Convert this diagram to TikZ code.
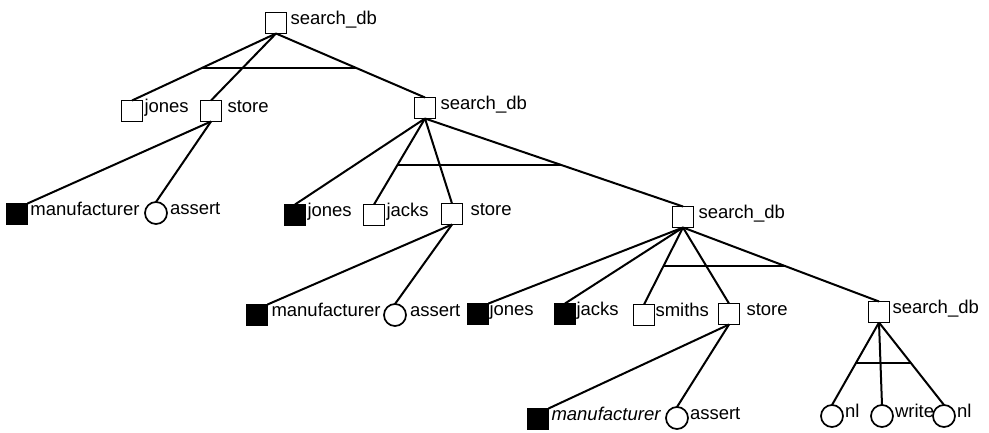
\documentclass[tikz,border=0pt]{standalone}
\usepackage{fontspec}
\setmainfont{Liberation Sans}
\begin{document}
\begin{tikzpicture}[x=1pt,y=-1pt,
  every node/.style={inner sep=0pt, outer sep=0pt},
  goalbox/.style={draw, rectangle, minimum size=21pt, line width=1.7pt, fill=white},
  donebox/.style={draw, rectangle, minimum size=21pt, line width=1.7pt, fill=black},
  builtin/.style={draw, circle, minimum size=22pt, line width=1.7pt, fill=white},
  lab/.style={anchor=base west, font=\fontsize{18.5}{20}\selectfont},
  edge/.style={line width=2pt},
  bar/.style={line width=1.6pt}]
\useasboundingbox (0,0) rectangle (989,432);

% ---- node shapes
\node[goalbox] (S1) at (276,23) {};
\node[goalbox] (J1) at (132,111) {};
\node[goalbox] (St1) at (211,111) {};
\node[goalbox] (S2) at (425,108) {};
\node[donebox] (M1) at (17,214) {};
\node[builtin] (A1) at (156,213) {};
\node[donebox] (J2) at (295,215) {};
\node[goalbox] (Jk2) at (374,215) {};
\node[goalbox] (St2) at (452,214) {};
\node[goalbox] (S3) at (683,217) {};
\node[donebox] (M2) at (257,315) {};
\node[builtin] (A2) at (395,315) {};
\node[donebox] (J3) at (478,314) {};
\node[donebox] (Jk3) at (565,314) {};
\node[goalbox] (Sm3) at (644,315) {};
\node[goalbox] (St3) at (729,314) {};
\node[goalbox] (S4) at (879,312) {};
\node[donebox] (M3) at (538,419) {};
\node[builtin] (A3) at (677,418) {};
\node[builtin] (N1) at (832,416) {};
\node[builtin] (W) at (882,416) {};
\node[builtin] (N2) at (944,416) {};

% ---- labels
\tikzset{lift/.style={yshift=-1.5pt}}
\node[lab] (S1l) at ([xshift=4pt,yshift=-1pt]S1.east) {search\_db};
\node[lab] (J1l) at ([xshift=2pt,lift]J1.east) {jones};
\node[lab] (St1l) at ([xshift=6pt,lift]St1.east) {store};
\node[lab] (S2l) at ([xshift=5pt,lift]S2.east) {search\_db};
\node[lab] (M1l) at ([xshift=3pt,lift]M1.east) {manufacturer};
\node[lab] (A1l) at ([xshift=3pt,lift]A1.east) {assert};
\node[lab] (J2l) at ([xshift=2pt,lift]J2.east) {jones};
\node[lab] (Jk2l) at ([xshift=2pt,lift]Jk2.east) {jacks};
\node[lab] (St2l) at ([xshift=8pt,lift]St2.east) {store};
\node[lab] (S3l) at ([xshift=5pt,lift]S3.east) {search\_db};
\node[lab] (M2l) at ([xshift=4pt,lift]M2.east) {manufacturer};
\node[lab] (A2l) at ([xshift=4pt,lift]A2.east) {assert};
\node[lab] (J3l) at ([xshift=1pt,lift]J3.east) {jones};
\node[lab] (Jk3l) at ([xshift=1pt,lift]Jk3.east) {jacks};
\node[lab] (Sm3l) at ([xshift=1pt,lift]Sm3.east) {smiths};
\node[lab] (St3l) at ([xshift=7pt,lift]St3.east) {store};
\node[lab] (S4l) at ([xshift=3pt,lift]S4.east) {search\_db};
\node[lab] (M3l) at ([xshift=3pt,lift]M3.east) {\itshape manufacturer};
\node[lab] (A3l) at ([xshift=2pt,lift]A3.east) {assert};
\node[lab] (N1l) at ([xshift=2pt,lift]N1.east) {nl};
\node[lab] (Wl) at ([xshift=2pt,lift]W.east) {write};
\node[lab] (N2l) at ([xshift=2pt,lift]N2.east) {nl};

% ---- tree edges
\begin{scope}[edge]
\draw (S1.south) -- (J1.north);
\draw (S1.south) -- (St1.north);
\draw (S1.south) -- (S2.north);
\draw (St1.south) -- (M1.north east);
\draw (St1.south) -- (A1.north);
\draw (S2.south) -- (J2.north);
\draw (S2.south) -- (Jk2.north);
\draw (S2.south) -- (St2.north);
\draw (S2.south) -- (S3.north);
\draw (St2.south) -- (M2.north east);
\draw (St2.south) -- (A2.north);
\draw (S3.south) -- (J3.north east);
\draw (S3.south) -- (Jk3.north);
\draw (S3.south) -- (Sm3.north);
\draw (S3.south) -- (St3.north);
\draw (S3.south) -- (S4.north);
\draw (St3.south) -- (M3.north east);
\draw (St3.south) -- (A3.north);
\draw (S4.south) -- (N1.north);
\draw (S4.south) -- (W.north);
\draw (S4.south) -- (N2.north);
\end{scope}

% ---- conjunction bars across the sibling edges
\begin{scope}[bar]
\draw (intersection of S1.south--J1.north and 0,68--1,68) coordinate (b1a)
   -- (intersection of S1.south--S2.north and 0,68--1,68) coordinate (b1b);
\draw (intersection of S2.south--Jk2.north and 0,165--1,165) coordinate (b2a)
   -- (intersection of S2.south--S3.north and 0,165--1,165) coordinate (b2b);
\draw (intersection of S3.south--Sm3.north and 0,266--1,266) coordinate (b3a)
   -- (intersection of S3.south--S4.north and 0,266--1,266) coordinate (b3b);
\draw (intersection of S4.south--N1.north and 0,363--1,363) coordinate (b4a)
   -- (intersection of S4.south--N2.north and 0,363--1,363) coordinate (b4b);
\end{scope}
\end{tikzpicture}
\end{document}
